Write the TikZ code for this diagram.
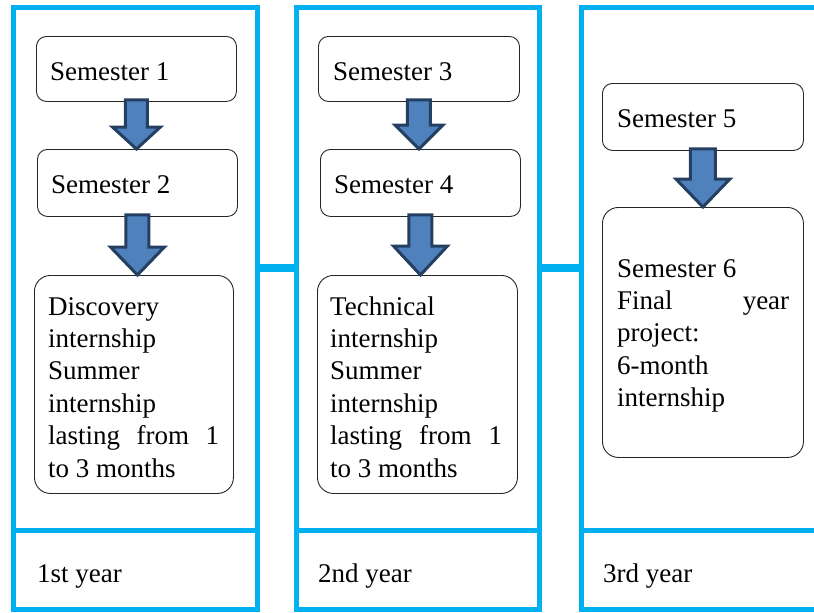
\documentclass[tikz,border=0pt]{standalone}
\usepackage{fontspec}
\setmainfont{Liberation Serif}
\usetikzlibrary{calc}
\definecolor{colblue}{HTML}{00B0F0}
\definecolor{arrfill}{HTML}{4F81BD}
\definecolor{arrline}{HTML}{243F60}
\newcommand\blockarrow[5]{%
  \draw[barrow] let \p1=(#1), \p2=(#2) in
    (\x1-#5pt,\y1+2pt) -- (\x1+#5pt,\y1+2pt) -- (\x1+#5pt,\y2+#3pt) -- (\x1+#4pt,\y2+#3pt)
    -- (\x1,\y2) -- (\x1-#4pt,\y2+#3pt) -- (\x1-#5pt,\y2+#3pt) -- cycle;}
\begin{document}
\begin{tikzpicture}[x=1pt,y=-1pt,
  colframe/.style={draw=colblue,line width=5pt,inner sep=0pt,outer sep=0pt,anchor=north west},
  divline/.style={draw=colblue,line width=5pt},
  bar/.style={draw=colblue,line width=8pt},
  sembox/.style={draw=black!85,line width=0.9pt,rounded corners=10pt,minimum width=200pt,minimum height=66pt,inner sep=0pt,anchor=north west},
  tallbox/.style={draw=black!85,line width=0.9pt,rounded corners=16pt,minimum width=200pt,inner sep=0pt,anchor=north west},
  txt/.style={anchor=base west,inner sep=0pt,font=\fontsize{27}{32.4}\selectfont},
  barrow/.style={draw=arrline,fill=arrfill,line width=3pt,line join=miter}]
\useasboundingbox (0,0) rectangle (814,613);
\clip (0,0) rectangle (814,613);
\coordinate (ybar) at (0,268);
\coordinate (ydiv) at (0,530);
% column frames
\node[colframe,minimum width=244pt,minimum height=602pt] (c1) at (13.5,7) {};
\node[colframe,minimum width=243pt,minimum height=602pt] (c2) at (296,7) {};
\node[colframe,minimum width=269pt,minimum height=602pt] (c3) at (581,7) {};
\draw[divline] (c1.west |- ydiv) -- (c1.east |- ydiv);
\draw[divline] (c2.west |- ydiv) -- (c2.east |- ydiv);
\draw[divline] (c3.west |- ydiv) -- (c3.east |- ydiv);
\draw[bar] (c1.east |- ybar) -- (c2.west |- ybar);
\draw[bar] (c2.east |- ybar) -- (c3.west |- ybar);
% boxes column 1
\node[sembox,minimum height=65pt] (s1) at (36,36) {};
\node[sembox,minimum height=67pt] (s2) at (37,149) {};
\node[tallbox,minimum width=199pt,minimum height=218pt] (d1) at (34,275) {};
% boxes column 2
\node[sembox,minimum width=201pt,minimum height=65pt] (s3) at (318,36) {};
\node[sembox,minimum height=67pt] (s4) at (320,149) {};
\node[tallbox,minimum height=218pt] (d2) at (317,275) {};
% boxes column 3
\node[sembox,minimum width=201pt,minimum height=67pt] (s5) at (602,83) {};
\node[tallbox,minimum width=201pt,minimum height=250pt] (d3) at (602,207) {};
% texts
\node[txt] (t1) at (50,80) {Semester 1};
\node[txt] (t2) at (51,193) {Semester 2};
\node[txt] (t3) at (333,80) {Semester 3};
\node[txt] (t4) at (334,193) {Semester 4};
\node[txt] (t5) at (617,127) {Semester 5};
\node[txt] (td1) at (48,315) {\parbox[t]{171pt}{Discovery\\ internship\\ Summer\\ internship\\ \makebox[171pt][s]{lasting from 1}\\ to 3 months}};
\node[txt] (td2) at (330,315) {\parbox[t]{172pt}{Technical\\ internship\\ Summer\\ internship\\ \makebox[172pt][s]{lasting from 1}\\ to 3 months}};
\node[txt] (td3) at (617,277) {\parbox[t]{172pt}{Semester 6\\ \makebox[172pt][s]{Final year}\\ project:\\ 6-month\\ internship}};
\node[txt] (y1) at (37,582) {1st year};
\node[txt] (y2) at (318,582) {2nd year};
\node[txt] (y3) at (603,582) {3rd year};
% block arrows
\blockarrow{s1.south}{s2.north}{22}{24}{11}
\blockarrow{s2.south}{d1.north}{28}{27}{11.5}
\blockarrow{s3.south}{s4.north}{24}{24}{11.5}
\blockarrow{s4.south}{d2.north}{29}{27}{11.5}
\blockarrow{s5.south}{d3.north}{28}{27}{12.5}
\end{tikzpicture}
\end{document}
